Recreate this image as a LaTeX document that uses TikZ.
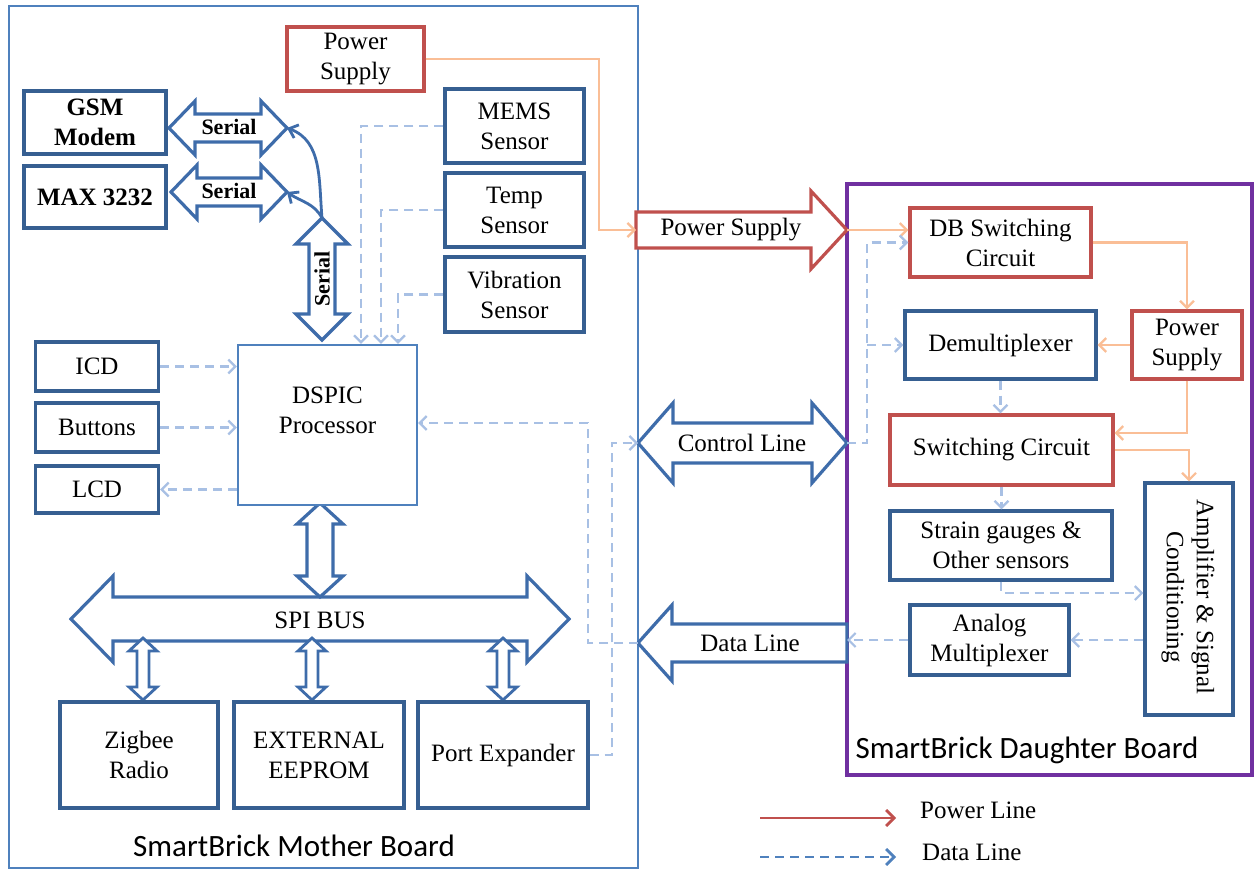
\documentclass[tikz,border=0pt]{standalone}
\usepackage{fontspec}
\setmainfont{Liberation Serif}
\newfontfamily\calibfont{Carlito}
\usetikzlibrary{arrows.meta,calc}
\definecolor{boxblue}{RGB}{54,95,145}
\definecolor{frameblue}{RGB}{79,129,189}
\definecolor{arrowblue}{RGB}{62,108,170}
\definecolor{boxred}{RGB}{192,80,77}
\definecolor{pwrorange}{RGB}{250,190,150}
\definecolor{dashblue}{RGB}{168,192,228}
\definecolor{dbpurple}{RGB}{112,48,160}
\newcommand\txtfont{\fontsize{25}{30}\selectfont}
\newcommand\serfont{\fontsize{22}{26}\selectfont\bfseries}
\newcommand\brdfont{\calibfont\fontsize{31}{36}\selectfont}
% horizontal double block arrow: style, xL, xR, yc, headlen, shafthalf, headhalf
\newcommand\HDArrow[7]{%
 \filldraw[#1] (#2,#4) -- ({#2+#5},{#4-#7}) -- ({#2+#5},{#4-#6}) -- ({#3-#5},{#4-#6}) -- ({#3-#5},{#4-#7}) -- (#3,#4) -- ({#3-#5},{#4+#7}) -- ({#3-#5},{#4+#6}) -- ({#2+#5},{#4+#6}) -- ({#2+#5},{#4+#7}) -- cycle;}
% vertical double block arrow: style, xc, yT, yB, headlen, shafthalf, headhalf
\newcommand\VDArrow[7]{%
 \filldraw[#1] (#2,#3) -- ({#2+#7},{#3+#5}) -- ({#2+#6},{#3+#5}) -- ({#2+#6},{#4-#5}) -- ({#2+#7},{#4-#5}) -- (#2,#4) -- ({#2-#7},{#4-#5}) -- ({#2-#6},{#4-#5}) -- ({#2-#6},{#3+#5}) -- ({#2-#7},{#3+#5}) -- cycle;}
\tikzset{
 bbox/.style={draw=boxblue, line width=3.3pt, fill=white, inner sep=0pt, align=center, font=\txtfont},
 rbox/.style={bbox, draw=boxred},
 procbox/.style={draw=frameblue, line width=2.3pt, fill=white, inner sep=0pt},
 txt/.style={inner sep=0pt, align=center, font=\txtfont},
 blockarrow/.style={draw=arrowblue, fill=white, line width=3.2pt, line join=miter},
 smallblock/.style={draw=arrowblue, fill=white, line width=2.8pt, line join=miter},
 redblock/.style={draw=boxred, fill=white, line width=3.2pt, line join=miter},
 pline/.style={draw=pwrorange, line width=2.2pt, -{Straight Barb[length=7pt,width=14pt]}},
 dline/.style={draw=dashblue, line width=2.2pt, dash pattern=on 9pt off 6pt, -{Straight Barb[length=7pt,width=14pt]}},
 curvearrow/.style={draw=arrowblue, line width=2.8pt, -{Straight Barb[length=8pt,width=14pt]}},
}
\begin{document}
\begin{tikzpicture}[x=1pt,y=-1pt]
\useasboundingbox (0,0) rectangle (1254,869);
\fill[white] (0,0) rectangle (1254,869);
% board frames
\draw[frameblue, line width=2.8pt] (9,6) rectangle (638,868);
\draw[dbpurple, line width=3.3pt] (847,184) rectangle (1252,775);
\node[inner sep=0pt, font=\brdfont] (mblabel) at (294,846) {SmartBrick Mother Board};
\node[inner sep=0pt, font=\brdfont] (dblabel) at (1027,750) {SmartBrick Daughter Board};

% block arrows
\HDArrow{blockarrow}{169}{287}{128}{26}{14}{27}
\HDArrow{blockarrow}{171}{287}{192}{26}{14}{27}
\VDArrow{blockarrow}{322}{218}{340}{26}{13}{26}
\HDArrow{blockarrow}{71}{569}{619}{42}{22}{43}
\VDArrow{blockarrow}{320}{503}{597}{21}{13}{23}
\VDArrow{smallblock}{143}{638}{700}{13}{6}{14}
\VDArrow{smallblock}{312}{638}{700}{13}{6}{14}
\VDArrow{smallblock}{503}{638}{700}{13}{6}{14}
\HDArrow{blockarrow}{638}{847}{443}{35}{20}{40}
\filldraw[redblock] (636,212) -- (811,212) -- (811,191) -- (847,230) -- (811,269) -- (811,248) -- (636,248) -- cycle;
\filldraw[blockarrow] (638,643) -- (672,605) -- (672,624) -- (847,624) -- (847,662) -- (672,662) -- (672,681) -- cycle;

\coordinate (gsmtip) at (287,128);
\coordinate (maxtip) at (287,192);
\coordinate (sertop) at (322,218);
\coordinate (pstail) at (636,230);
\coordinate (pstip) at (847,230);
\coordinate (cltipL) at (638,443);
\coordinate (cltipR) at (847,443);
\coordinate (dltip) at (638,643);
\coordinate (dlend) at (847,643);

\node[txt, font=\serfont] (ser1) at (229,127) {Serial};
\node[txt, font=\serfont] (ser2) at (229,191) {Serial};
\node[txt, font=\serfont, rotate=90] (ser3) at (322,279) {Serial};
\node[txt] (spilbl) at (320,620) {SPI BUS};
\node[txt] (pslbl) at (731,230) {Power Supply};
\node[txt] (cllbl) at (742,443) {Control Line};
\node[txt] (dllbl) at (750,643) {Data Line};

% mother board boxes
\node[rbox, minimum width=137pt, minimum height=64pt] (mbps) at (355.5,59) {Power\\Supply};
\node[bbox, font=\txtfont\bfseries, minimum width=142pt, minimum height=63pt] (gsm) at (95,122.5) {GSM\\Modem};
\node[bbox, font=\txtfont\bfseries, minimum width=142pt, minimum height=62pt] (max) at (95,197) {MAX 3232};
\node[bbox, minimum width=139pt, minimum height=74pt] (mems) at (514.5,126) {MEMS\\Sensor};
\node[bbox, minimum width=139pt, minimum height=74pt] (temp) at (514.5,210) {Temp\\Sensor};
\node[bbox, minimum width=139pt, minimum height=75pt] (vib) at (514.5,294.5) {Vibration\\Sensor};
\node[bbox, minimum width=123pt, minimum height=49pt] (icd) at (97,366.5) {ICD};
\node[bbox, minimum width=123pt, minimum height=49pt] (buttons) at (97,427.5) {Buttons};
\node[bbox, minimum width=123pt, minimum height=47pt] (lcd) at (97,489.5) {LCD};
\node[procbox, minimum width=179pt, minimum height=160pt] (dspic) at (327.5,425) {};
\node[txt] (dspictxt) at (327.5,410) {DSPIC\\Processor};
\node[bbox, minimum width=158pt, minimum height=106pt] (zigbee) at (139,755) {Zigbee\\Radio};
\node[bbox, minimum width=170pt, minimum height=106pt] (eeprom) at (319,755) {EXTERNAL\\EEPROM};
\node[bbox, minimum width=170pt, minimum height=106pt] (pexp) at (503,755) {Port Expander};

% daughter board boxes
\node[rbox, minimum width=181pt, minimum height=69pt] (dbsw) at (1000.5,242.5) {DB Switching\\Circuit};
\node[bbox, minimum width=191pt, minimum height=68pt] (demux) at (1000.5,345) {Demultiplexer};
\node[rbox, minimum width=110pt, minimum height=68pt] (dbps) at (1187,345) {Power\\Supply};
\node[rbox, minimum width=223pt, minimum height=70pt] (swc) at (1001.5,450) {Switching Circuit};
\node[bbox, minimum width=222pt, minimum height=69pt] (strain) at (1001,545.5) {Strain gauges \&\\Other sensors};
\node[bbox, minimum width=159pt, minimum height=70pt] (analog) at (989.5,640) {Analog\\Multiplexer};
\node[bbox, minimum width=88pt, minimum height=232pt] (amp) at (1189,599) {};
\node[txt, rotate=-90] (amptxt) at (1188,597) {Amplifier \& Signal\\Conditioning};

% curved serial links
\draw[curvearrow] (sertop) to[out=95,in=-20] (gsmtip);
\draw[curvearrow] (sertop) to[out=118,in=-35] (maxtip);

% power lines
\coordinate (psturn) at (599,230);
\draw[pline] (mbps.east) -| (psturn) -- (pstail);
\draw[pline] (pstip) -- (dbsw.west |- pstip);
\draw[pline] (dbsw.east) -| (dbps.north);
\draw[pline] (dbps.west) -- (demux.east);
\draw[pline] (dbps.south) |- ([yshift=17pt]swc.east);
\draw[pline] (swc.east) -| (amp.north);

% data lines (mother board)
\draw[dline] (mems.west) -| ([xshift=33.5pt]dspic.north);
\draw[dline] (temp.west) -| ([xshift=53.5pt]dspic.north);
\draw[dline] (vib.west) -| ([xshift=70.5pt]dspic.north);
\draw[dline] (icd.east) -- (dspic.west |- icd.east);
\draw[dline] (buttons.east) -- (dspic.west |- buttons.east);
\draw[dline] (dspic.west |- lcd.east) -- (lcd.east);
\coordinate (dlturn) at (588,423);
\draw[dline] (dltip) -| (dlturn) -- (dspic.east |- dlturn);
\coordinate (clturn) at (612,443);
\draw[dline] (pexp.east) -| (clturn) -- (cltipL);

% data lines (daughter board)
\coordinate (dbturn) at (867,443);
\draw[dline] (cltipR) -- (dbturn) |- (dbsw.west);
\draw[dline] (dbturn |- demux.west) -- (demux.west);
\draw[dline] (demux.south) -- (demux.south |- swc.north);
\draw[dline] (swc.south) -- (swc.south |- strain.north);
\coordinate (stturn) at (1001,593);
\draw[dline] (strain.south) -- (stturn) -- (amp.west |- stturn);
\draw[dline] (amp.west |- analog.east) -- (analog.east);
\draw[dline] (analog.west) -- (dlend |- analog.west);

% legend
\coordinate (lgpa) at (760,818);
\coordinate (lgpb) at (896,818);
\coordinate (lgda) at (760,857);
\coordinate (lgdb) at (896,857);
\draw[draw=boxred, line width=2.8pt, -{Straight Barb[length=8pt,width=16pt]}] (lgpa) -- (lgpb);
\draw[draw=frameblue, line width=2.8pt, dash pattern=on 9pt off 6pt, -{Straight Barb[length=8pt,width=16pt]}] (lgda) -- (lgdb);
\node[txt, anchor=west] (lgpt) at (920,810) {Power Line};
\node[txt, anchor=west] (lgdt) at (922,852) {Data Line};
\end{tikzpicture}
\end{document}
